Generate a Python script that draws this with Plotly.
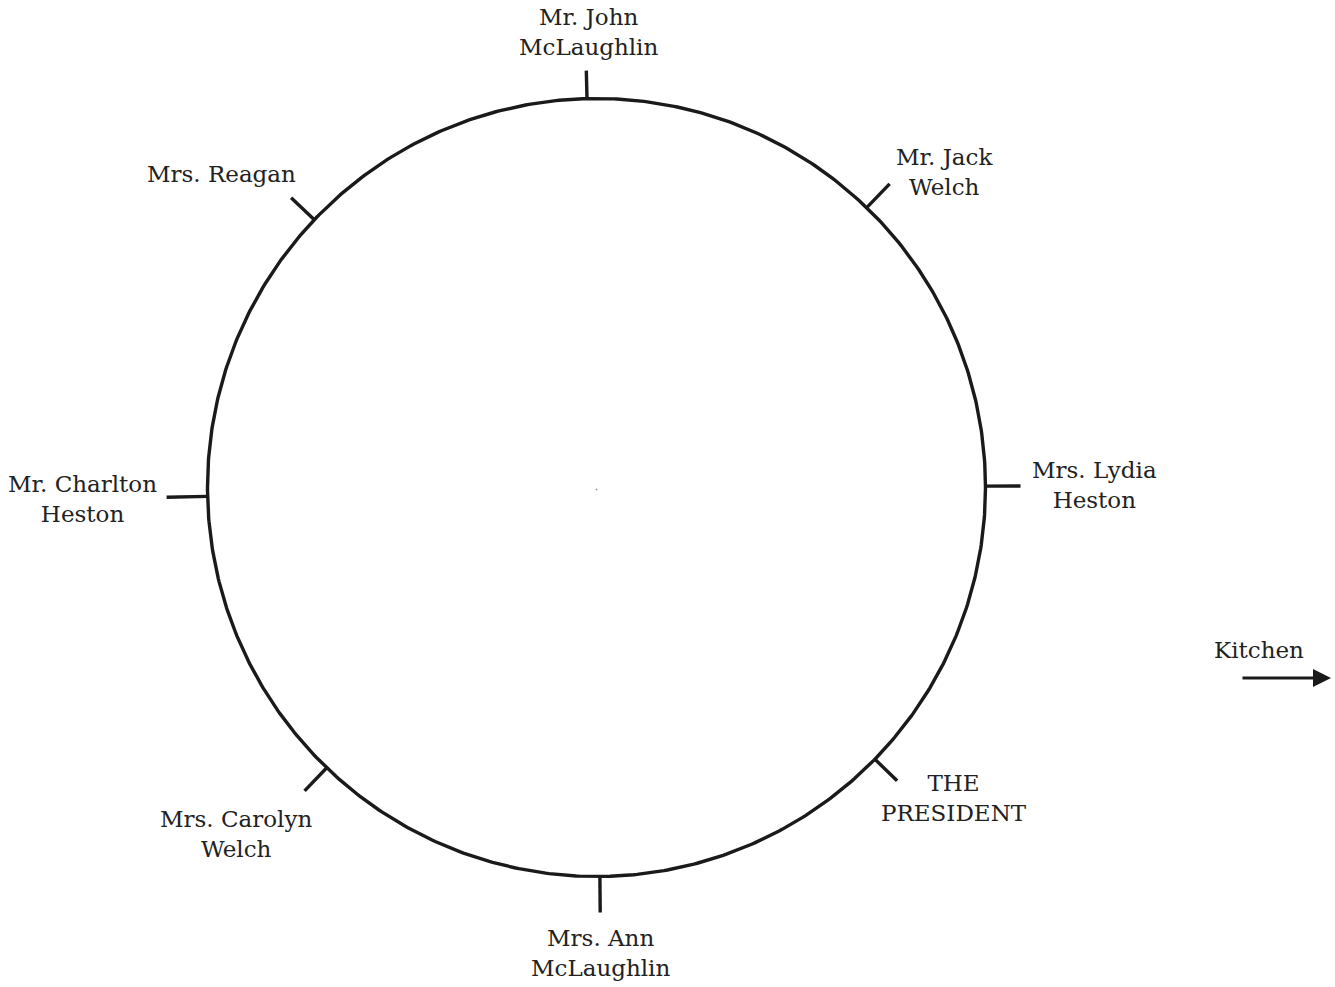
import math
import plotly.graph_objects as go

# ---- data ----
seat_names = [
    "Mr. John<br>McLaughlin",
    "Mr. Jack<br>Welch",
    "Mrs. Lydia<br>Heston",
    "THE<br>PRESIDENT",
    "Mrs. Ann<br>McLaughlin",
    "Mrs. Carolyn<br>Welch",
    "Mr. Charlton<br>Heston",
    "Mrs. Reagan",
]
seat_angles_deg = [91.4, 46.0, 0.2, -44.3, -89.5, 226.1, 181.3, 136.5]
exit_label = "Kitchen"

# ---- layout / style (pixel-space drawing) ----
W, H = 1335, 987
CX, CY, R = 596.5, 487.5, 389.0
TICK_LEN = [28, 33, 35, 31, 36, 32, 41, 32]
LABEL_POS = [
    (588, 32), (944, 172), (1094, 485), (954, 798),
    (600, 953), (236, 834), (82, 499), (221, 174),
]
INK = "#1a1a1a"
FONT = dict(family="DejaVu Serif", size=23, color="#222222")

fig = go.Figure()

# table circle
theta = [i * 2 * math.pi / 720 for i in range(721)]
fig.add_trace(go.Scatter(
    x=[CX + R * math.cos(t) for t in theta],
    y=[CY - R * math.sin(t) for t in theta],
    mode="lines", line=dict(color=INK, width=3.4),
    hoverinfo="skip", showlegend=False,
))

# seat ticks
tx, ty = [], []
for ang, ln in zip(seat_angles_deg, TICK_LEN):
    a = math.radians(ang)
    tx += [CX + R * math.cos(a), CX + (R + ln) * math.cos(a), None]
    ty += [CY - R * math.sin(a), CY - (R + ln) * math.sin(a), None]
fig.add_trace(go.Scatter(
    x=tx, y=ty, mode="lines", line=dict(color=INK, width=3.4),
    hoverinfo="skip", showlegend=False,
))

# center speck
fig.add_trace(go.Scatter(
    x=[CX], y=[CY + 2], mode="markers",
    marker=dict(size=2, color="#999999"),
    hoverinfo="skip", showlegend=False,
))

annotations = []
for name, (lx, ly) in zip(seat_names, LABEL_POS):
    annotations.append(dict(
        x=lx, y=ly, xref="x", yref="y", text=name, showarrow=False,
        xanchor="center", yanchor="middle", align="center", font=FONT,
    ))

annotations.append(dict(
    x=1259, y=650, xref="x", yref="y", text=exit_label, showarrow=False,
    xanchor="center", yanchor="middle", font=FONT,
))
annotations.append(dict(
    x=1331, y=678, ax=1241, ay=678, xref="x", yref="y", axref="x", ayref="y",
    text="", showarrow=True, arrowhead=2, arrowsize=1.2, arrowwidth=3,
    arrowcolor=INK,
))

fig.update_layout(
    width=W, height=H,
    margin=dict(l=0, r=0, t=0, b=0),
    paper_bgcolor="white", plot_bgcolor="white",
    xaxis=dict(range=[0, W], visible=False, fixedrange=True),
    yaxis=dict(range=[H, 0], visible=False, fixedrange=True),
    annotations=annotations,
    showlegend=False,
)

fig.write_html(
    "out.html",
    config={"displayModeBar": False, "staticPlot": True},
    post_script="document.body.style.margin='0';document.body.style.overflow='hidden';",
)
